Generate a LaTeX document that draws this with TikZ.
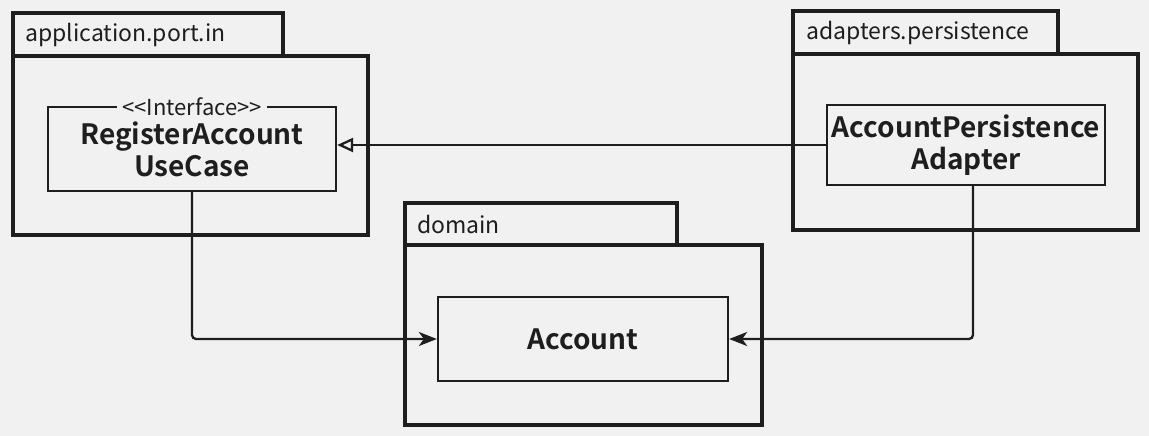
\documentclass[tikz,border=0pt]{standalone}
\usepackage{fontspec}
\setmainfont{Noto Sans CJK KR}[BoldFont={Noto Sans CJK KR Bold}]
\usetikzlibrary{arrows.meta}
\definecolor{bg}{HTML}{F1F1F1}
\definecolor{ink}{HTML}{1E1E1E}
\tikzset{
  pkgline/.style={draw=ink, line width=3.2pt},
  pkglabel/.style={anchor=west, inner sep=0pt, text=ink, font=\fontsize{23}{27}\selectfont},
  cls/.style={draw=ink, line width=2.3pt, align=center, text=ink, inner sep=0pt,
    font=\bfseries\fontsize{28}{32}\selectfont},
  stereo/.style={fill=bg, inner xsep=5pt, inner ysep=0pt, text=ink, font=\fontsize{22}{24}\selectfont},
  dep/.style={draw=ink, line width=2.3pt, rounded corners=4pt, -{Stealth[length=18pt,width=14pt,inset=5pt]}},
  impl/.style={draw=ink, line width=2.3pt, -{Triangle[open,length=16pt,width=14pt]}}
}
\begin{document}
\begin{tikzpicture}[x=1pt,y=-1pt]
\fill[bg] (0,0) rectangle (1149,436);
\useasboundingbox (0,0) rectangle (1149,436);
% package application.port.in
\draw[pkgline] (13,56) rectangle (283,13);
\draw[pkgline] (13,56) rectangle (368,235);
\node[pkglabel] (p1) at (25,35) {application.port.in};
% package adapters.persistence
\draw[pkgline] (793,54) rectangle (1058,11);
\draw[pkgline] (793,54) rectangle (1138,230);
\node[pkglabel] (p2) at (806,33) {adapters.persistence};
% package domain
\draw[pkgline] (405,245) rectangle (677,203);
\draw[pkgline] (405,245) rectangle (762,425);
\node[pkglabel] (p3) at (417,224) {domain};
% classes
\node[cls, minimum width=288pt, minimum height=84pt] (ruc) at (192,149) {RegisterAccount\\UseCase};
\node[stereo] (st) at (192,107) {{<}{<}Interface{>}{>}};
\node[cls, minimum width=278pt, minimum height=80pt] (adp) at (966,145) {AccountPersistence\\Adapter};
\node[cls, minimum width=290pt, minimum height=84pt] (acc) at (583,339) {Account};
% connectors
\draw[impl] (adp.west) -- (adp.west -| ruc.east);
\draw[dep] (ruc.south) |- (acc.west);
\draw[dep] ([xshift=7pt]adp.south) |- (acc.east);
\end{tikzpicture}
\end{document}
